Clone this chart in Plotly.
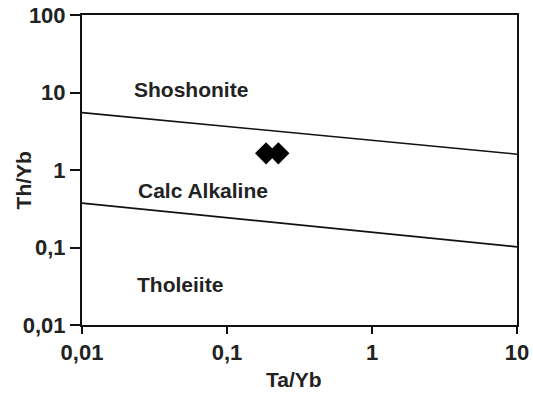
import math
import plotly.graph_objects as go

# Data
sample_x = [0.186, 0.226]
sample_y = [1.64, 1.64]
upper_x = [0.01, 10]
upper_y = [5.5, 1.6]
lower_x = [0.01, 10]
lower_y = [0.374, 0.102]
x_ticks = [0.01, 0.1, 1, 10]
x_tick_labels = ["0,01", "0,1", "1", "10"]
y_ticks = [0.01, 0.1, 1, 10, 100]
y_tick_labels = ["0,01", "0,1", "1", "10", "100"]
field_names = ["Shoshonite", "Calc Alkaline", "Tholeiite"]
field_x = [0.0561, 0.068, 0.0477]
field_y = [10.8, 0.55, 0.0335]

FONT = "Liberation Sans, Arial, sans-serif"
TXT = "#222"

fig = go.Figure()
fig.add_trace(go.Scatter(x=upper_x, y=upper_y, mode="lines",
                         line=dict(color="#111", width=1.6), hoverinfo="skip"))
fig.add_trace(go.Scatter(x=lower_x, y=lower_y, mode="lines",
                         line=dict(color="#111", width=1.6), hoverinfo="skip"))
fig.add_trace(go.Scatter(x=sample_x, y=sample_y, mode="markers",
                         marker=dict(symbol="diamond", size=17, color="black",
                                     line=dict(width=0))))

for name, fx, fy in zip(field_names, field_x, field_y):
    fig.add_annotation(x=math.log10(fx), y=math.log10(fy), xref="x", yref="y",
                       text="<b>%s</b>" % name, showarrow=False,
                       font=dict(family=FONT, size=21, color=TXT))

# axis titles
fig.add_annotation(x=-0.1345, y=0.468, xref="paper", yref="paper", text="<b>Th/Yb</b>",
                   showarrow=False, textangle=-90, xanchor="center", yanchor="middle",
                   font=dict(family=FONT, size=21, color=TXT))
fig.add_annotation(x=0.487, y=-0.177, xref="paper", yref="paper", text="<b>Ta/Yb</b>",
                   showarrow=False, xanchor="center", yanchor="middle",
                   font=dict(family=FONT, size=21, color=TXT))

fig.update_xaxes(type="log", range=[-2, 1], tickvals=x_ticks,
                 ticktext=["<b>%s</b>" % t for t in x_tick_labels],
                 showgrid=False, zeroline=False, showline=True, linecolor="#111",
                 linewidth=2, mirror=True, ticks="outside", ticklen=7, tickwidth=2,
                 tickcolor="#111", automargin=False,
                 tickfont=dict(family=FONT, size=22, color=TXT))
fig.update_yaxes(type="log", range=[-2, 2], tickvals=y_ticks,
                 ticktext=["<b>%s</b>" % t for t in y_tick_labels],
                 showgrid=False, zeroline=False, showline=True, linecolor="#111",
                 linewidth=2, mirror=True, ticks="outside", ticklen=10, tickwidth=2,
                 tickcolor="#111", automargin=False,
                 tickfont=dict(family=FONT, size=22, color=TXT))

fig.update_layout(width=533, height=393, showlegend=False,
                  margin=dict(l=82, r=16, t=15, b=68),
                  plot_bgcolor="white", paper_bgcolor="white")

fig.write_html("out.html")
